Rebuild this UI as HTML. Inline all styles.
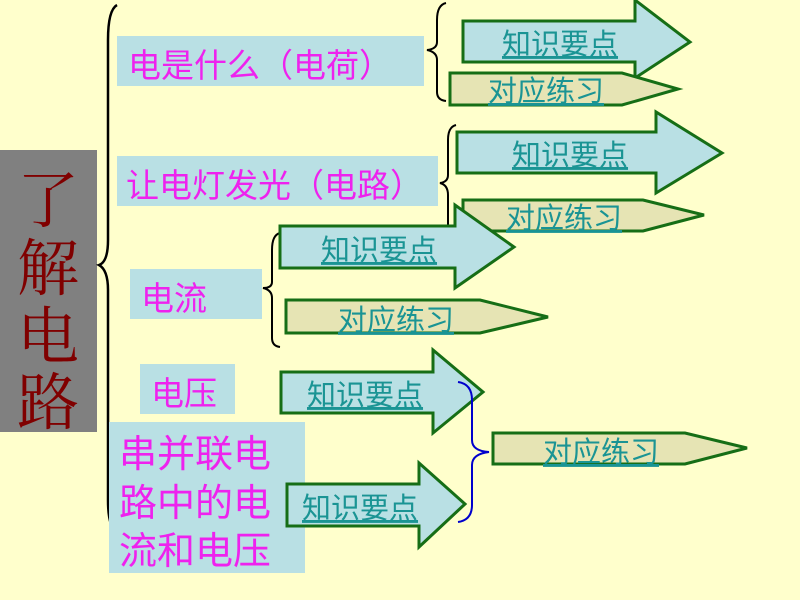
<!DOCTYPE html>
<html><head><meta charset="utf-8"><style>
html,body{margin:0;padding:0;background:#ffffcc;}
svg{display:block}
.m{font-family:"Liberation Sans","Noto Sans CJK SC",sans-serif;fill:#ee22ee;}
.k{font-family:"Liberation Sans","Noto Sans CJK SC",sans-serif;fill:#1a9494;font-size:29px;text-decoration:underline;}
</style></head><body>
<svg width="800" height="600" viewBox="0 0 800 600" xmlns="http://www.w3.org/2000/svg">
<rect width="800" height="600" fill="#ffffcc"/>
<rect x="0" y="150" width="97" height="282" fill="#808080"/>
<g font-family="'Liberation Serif','Noto Serif CJK SC',serif" font-size="62" fill="#800000" text-anchor="middle">
<text x="48" y="222">了</text><text x="48" y="290">解</text><text x="48" y="358">电</text><text x="48" y="424">路</text>
</g>
<path d="M117,5 Q108,10 108,40 L108,240 Q108,262 99,265 Q108,270 108,290 L108,500 Q108,528 117,532" fill="none" stroke="#000" stroke-width="2.5"/>
<rect x="117" y="36" width="307" height="50" fill="#b9e0e4"/>
<text class="m" x="128" y="77" font-size="33">电是什么（电荷）</text>
<rect x="117" y="156" width="321" height="50" fill="#b9e0e4"/>
<text class="m" x="126" y="197" font-size="33">让电灯发光（电路）</text>
<rect x="130" y="269" width="132" height="50" fill="#b9e0e4"/>
<text class="m" x="141" y="310" font-size="33">电流</text>
<rect x="140" y="364" width="95" height="50" fill="#b9e0e4"/>
<text class="m" x="151" y="405" font-size="33">电压</text>
<rect x="109" y="422" width="196" height="151" fill="#b9e0e4"/>
<g class="m" font-size="38"><text x="119" y="467">串并联电</text><text x="119" y="516">路中的电</text><text x="119" y="564">流和电压</text></g>

<path d="M446,3 Q437,5 437,20 L437,42 Q437,49 427,50 Q437,52 437,60 L437,92 Q437,100 446,101" fill="none" stroke="#000" stroke-width="2"/>
<polygon points="463,21 635,21 635,0 690,42 635,78 635,62 463,62" fill="#b9e0e4" stroke="#166e16" stroke-width="3"/>
<text class="k" x="502" y="54">知识要点</text>
<polygon points="450,73 622,73 678,89 622,105 450,105" fill="#e6e4b4" stroke="#166e16" stroke-width="3"/>
<text class="k" x="488" y="101">对应练习</text>

<path d="M456,125 Q448,127 448,140 L448,175 Q448,182 440,183 Q448,185 448,195 L448,230 Q448,238 456,240" fill="none" stroke="#000" stroke-width="2"/>
<polygon points="457,132 656,132 656,112 722,153 656,193 656,173 457,173" fill="#b9e0e4" stroke="#166e16" stroke-width="3"/>
<text class="k" x="512" y="165">知识要点</text>
<polygon points="463,200 643,200 704,215 643,231 463,231" fill="#e6e4b4" stroke="#166e16" stroke-width="3"/>
<text class="k" x="506" y="228">对应练习</text>

<path d="M280,233 Q272,235 272,250 L272,282 Q272,288 263,288 Q272,290 272,298 L272,338 Q272,346 280,347" fill="none" stroke="#000" stroke-width="2"/>
<polygon points="280,226 455,226 455,205 514,247 455,288 455,268 280,268" fill="#b9e0e4" stroke="#166e16" stroke-width="3"/>
<text class="k" x="321" y="260">知识要点</text>
<polygon points="286,300 480,300 548,317 480,333 286,333" fill="#e6e4b4" stroke="#166e16" stroke-width="3"/>
<text class="k" x="338" y="330">对应练习</text>

<polygon points="281,372 433,372 433,350 483,392 433,433 433,413 281,413" fill="#b9e0e4" stroke="#166e16" stroke-width="3"/>
<text class="k" x="307" y="405">知识要点</text>
<polygon points="287,484 419,484 419,463 465,504 419,547 419,526 287,526" fill="#b9e0e4" stroke="#166e16" stroke-width="3"/>
<text class="k" x="302" y="518">知识要点</text>
<path d="M458,382 Q472,384 472,400 L472,440 Q472,451 489,452 Q472,454 472,465 L472,505 Q472,520 458,522" fill="none" stroke="#0000cc" stroke-width="2"/>
<polygon points="493,433 685,433 747,448 685,464 493,464" fill="#e6e4b4" stroke="#166e16" stroke-width="3"/>
<text class="k" x="543" y="462">对应练习</text>
</svg>
</body></html>
